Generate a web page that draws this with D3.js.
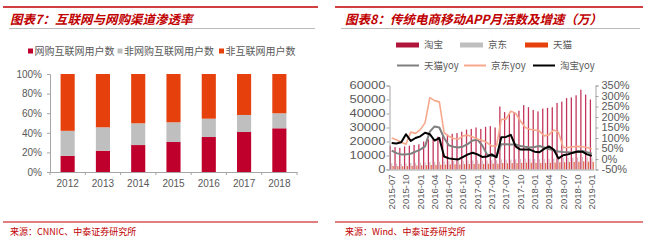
<!DOCTYPE html>
<html>
<head>
<meta charset="utf-8">
<script src="https://cdn.jsdelivr.net/npm/d3@7"></script>
<style>
  body { margin: 0; background: #fff; }
  svg { display: block; }
  text { font-family: "Liberation Sans", Arial, sans-serif; }
  .cjk { font-family: "Noto Sans CJK SC", sans-serif; }
</style>
</head>
<body>
<svg id="chart" width="650" height="240"></svg>
<script>
// ---- left chart data (share of population, %) ----
const years = ['2012', '2013', '2014', '2015', '2016', '2017', '2018'];
const shopUsers = [16.5, 21.7, 27.5, 30.6, 35.7, 40.8, 44.6];      // 网购互联网用户数
const nonShopUsers = [25.5, 23.9, 22.2, 20.1, 18.7, 17.4, 15.3];   // 非网购互联网用户数
const nonNetUsers = [58.0, 54.4, 50.3, 49.3, 45.6, 41.8, 40.1];    // 非互联网用户数
const pctTicks = [0, 20, 40, 60, 80, 100];

// ---- right chart data (万, %) ----
const months = ['2015-07','2015-08','2015-09','2015-10','2015-11','2015-12',
  '2016-01','2016-02','2016-03','2016-04','2016-05','2016-06','2016-07','2016-08','2016-09','2016-10','2016-11','2016-12',
  '2017-01','2017-02','2017-03','2017-04','2017-05','2017-06','2017-07','2017-08','2017-09','2017-10','2017-11','2017-12',
  '2018-01','2018-02','2018-03','2018-04','2018-05','2018-06','2018-07','2018-08','2018-09','2018-10','2018-11','2018-12',
  '2019-01'];
const monthTicks = ['2015-07','2015-10','2016-01','2016-04','2016-07','2016-10','2017-01','2017-04','2017-07','2017-10','2018-01','2018-04','2018-07','2018-10','2019-01'];
const taobaoMau = [17000,16000,15500,16500,17000,17500,18000,20000,21500,22500,23500,24000,25000,25500,26000,27000,
  28500,29000,30000,29000,30500,31000,30000,45000,41000,40500,41000,42000,46000,44500,42500,41500,43500,44000,44500,
  47500,48500,51000,51500,53000,57000,53500,50000];
const jdMau = [4500,4300,4200,4400,4600,4800,5000,5200,5400,5500,5600,5800,6000,6100,6000,6200,6400,6500,6600,6400,
  6500,6700,6600,7200,7000,7100,7300,7500,7800,7600,7400,7300,7500,7600,7700,8000,8100,8300,8400,8600,9000,8700,8500];
const tmallMau = [2500,2400,2300,2500,2600,2800,3000,3100,3200,3300,3400,3500,3600,3700,3600,3800,3900,4000,4100,4000,
  4100,4200,4100,4600,4500,4500,4600,4700,4900,4800,4700,4600,4700,4800,4900,5100,5200,5300,5400,5500,5800,5600,5400];
const tmallYoy = [40,28,22,22,25,35,45,60,130,155,150,100,65,58,55,60,72,88,92,65,22,14,15,70,70,69,69,62,58,55,57,62,
  55,48,42,36,33,32,30,35,38,32,25];
const jdYoy = [100,92,80,70,128,122,140,172,292,278,272,125,108,98,95,110,113,105,95,88,78,62,62,188,190,228,218,182,
  150,142,138,133,110,115,138,128,55,55,58,60,58,55,48];
const taobaoYoy = [76,74,80,118,86,100,108,125,118,88,100,12,3,0,-2,10,22,30,22,10,12,22,8,103,105,115,60,45,45,45,
  35,32,48,60,45,3,18,22,30,36,35,22,15];
const mauTicks = [0, 10000, 20000, 30000, 40000, 50000, 60000];
const yoyTicks = [-50, 0, 50, 100, 150, 200, 250, 300, 350];

const red = '#c00000';
const crimson = '#c0002c';
const lightGray = '#bfbfbf';
const orange = '#e6400c';
const axisGray = '#a6a6a6';
const labelGray = '#595959';

const svg = d3.select('#chart');

// page frame: red rules, title, grey rule, source
function frame(x0, x1, titleX, title, source) {
  svg.append('line').attr('x1', x0).attr('x2', x1).attr('y1', 7).attr('y2', 7)
    .attr('stroke', red).attr('stroke-width', 1.5);
  svg.append('text').attr('class', 'cjk').attr('x', titleX).attr('y', 23.5)
    .attr('font-size', 12.5).attr('font-weight', 'bold').attr('font-style', 'italic')
    .attr('fill', red).text(title);
  svg.append('line').attr('x1', x0 + 6).attr('x2', x1 - 3).attr('y1', 28.5).attr('y2', 28.5)
    .attr('stroke', '#bbbbbb').attr('stroke-width', 1);
  svg.append('line').attr('x1', x0).attr('x2', x1).attr('y1', 222).attr('y2', 222)
    .attr('stroke', red).attr('stroke-width', 1.2);
  svg.append('text').attr('class', 'cjk').attr('x', titleX).attr('y', 235)
    .attr('font-size', 9).attr('fill', red).text(source);
}
frame(3, 318, 10, '图表7：互联网与网购渠道渗透率', '来源：CNNIC、中泰证券研究所');
frame(335, 643, 345, '图表8：传统电商移动APP月活数及增速（万）', '来源：Wind、中泰证券研究所');

// ================= left: stacked 100% bars =================
const xL = d3.scaleBand().domain(years).range([50, 297]).paddingInner(0.6).paddingOuter(0.3);
const yL = d3.scaleLinear().domain([0, 100]).range([172, 74]);

const stackRows = years.map((y, i) => ({ year: y, shop: shopUsers[i], nonShop: nonShopUsers[i], nonNet: nonNetUsers[i] }));
const keysL = ['shop', 'nonShop', 'nonNet'];
const colorL = d3.scaleOrdinal().domain(keysL).range([crimson, lightGray, orange]);
const stacked = d3.stack().keys(keysL)(stackRows);

const left = svg.append('g');
left.selectAll('g.layer')
  .data(stacked)
  .join('g')
  .attr('fill', d => colorL(d.key))
  .selectAll('rect')
  .data(d => d)
  .join('rect')
  .attr('x', d => xL(d.data.year))
  .attr('width', xL.bandwidth())
  .attr('y', d => yL(d[1]))
  .attr('height', d => yL(d[0]) - yL(d[1]));

const yAxisL = left.append('g').attr('transform', 'translate(50,0)')
  .call(d3.axisLeft(yL).tickValues(pctTicks).tickSize(3).tickPadding(5).tickFormat(d => d + '%'));
const xAxisL = left.append('g').attr('transform', 'translate(0,172)')
  .call(d3.axisBottom(xL).tickSize(0).tickPadding(8));
// tick marks between categories
left.append('g').selectAll('line')
  .data(d3.range(years.length + 1))
  .join('line')
  .attr('x1', i => xL.range()[0] + i * xL.step())
  .attr('x2', i => xL.range()[0] + i * xL.step())
  .attr('y1', 172).attr('y2', 175)
  .attr('stroke', axisGray);

[yAxisL, xAxisL].forEach(a => {
  a.selectAll('path, line').attr('stroke', axisGray);
  a.selectAll('text').attr('fill', labelGray).attr('font-size', 10)
    .attr('font-family', '"Liberation Sans", Arial, sans-serif');
});

// left legend
const legendL = [
  { key: 'shop', label: '网购互联网用户数', x: 28 },
  { key: 'nonShop', label: '非网购互联网用户数', x: 117.5 },
  { key: 'nonNet', label: '非互联网用户数', x: 219 }
];
const lgL = svg.append('g').selectAll('g').data(legendL).join('g')
  .attr('transform', d => `translate(${d.x},51)`);
lgL.append('rect').attr('x', 0).attr('y', -2.5).attr('width', 5).attr('height', 5)
  .attr('fill', d => colorL(d.key));
lgL.append('text').attr('class', 'cjk').attr('x', 6.5).attr('y', 3.5)
  .attr('font-size', 10).attr('fill', labelGray).text(d => d.label);

// ================= right: MAU bars + yoy lines =================
const xR = d3.scaleBand().domain(months).range([389.5, 594]).paddingInner(0.08).paddingOuter(0);
const yMau = d3.scaleLinear().domain([0, 60000]).range([169.5, 85.5]);
const yYoy = d3.scaleLinear().domain([-50, 350]).range([169.5, 85.5]);
const barKeys = ['taobao', 'jd', 'tmall'];
const xSub = d3.scaleBand().domain(barKeys).range([0, xR.bandwidth()]).padding(0.1);
const barColor = d3.scaleOrdinal().domain(barKeys).range(['#c4345a', '#d9b8c0', '#e8704c']);
const barSeries = { taobao: taobaoMau, jd: jdMau, tmall: tmallMau };

const right = svg.append('g');
right.selectAll('g.bars')
  .data(barKeys)
  .join('g')
  .attr('fill', k => barColor(k))
  .selectAll('rect')
  .data(k => months.map((m, i) => ({ key: k, month: m, value: barSeries[k][i] })))
  .join('rect')
  .attr('x', d => xR(d.month) + xSub(d.key))
  .attr('width', xSub.bandwidth())
  .attr('y', d => yMau(d.value))
  .attr('height', d => yMau(0) - yMau(d.value));

const lineSeries = [
  { name: '天猫yoy', values: tmallYoy, color: '#7f7f7f', width: 2 },
  { name: '京东yoy', values: jdYoy, color: '#f7a88c', width: 1.6 },
  { name: '淘宝yoy', values: taobaoYoy, color: '#000000', width: 2 }
];
const line = d3.line()
  .x((d, i) => xR(months[i]) + xR.bandwidth() / 2)
  .y(d => yYoy(d));
right.selectAll('path.yoy')
  .data(lineSeries)
  .join('path')
  .attr('class', 'yoy')
  .attr('fill', 'none')
  .attr('stroke', d => d.color)
  .attr('stroke-width', d => d.width)
  .attr('stroke-linejoin', 'round')
  .attr('d', d => line(d.values));

const yAxisR1 = right.append('g').attr('transform', 'translate(389.5,0)')
  .call(d3.axisLeft(yMau).tickValues(mauTicks).tickSize(3).tickPadding(1).tickFormat(d3.format('d')));
const yAxisR2 = right.append('g').attr('transform', 'translate(595.5,0)')
  .call(d3.axisRight(yYoy).tickValues(yoyTicks).tickSize(3).tickPadding(3).tickFormat(d => d + '%'));
const xAxisR = right.append('g').attr('transform', 'translate(0,169.5)')
  .call(d3.axisBottom(xR).tickValues(monthTicks).tickSize(0).tickPadding(4));

[yAxisR1, yAxisR2, xAxisR].forEach(a => {
  a.selectAll('path, line').attr('stroke', axisGray);
  a.selectAll('text').attr('fill', labelGray).attr('font-size', 10)
    .attr('font-family', '"Liberation Sans", Arial, sans-serif');
});
// the reference's axis labels look stretched sideways
yAxisR1.selectAll('text').attr('x', -4 / 1.3).attr('transform', 'scale(1.3,1)');
yAxisR2.selectAll('text').attr('x', 6 / 1.1).attr('transform', 'scale(1.1,1)');
xAxisR.selectAll('text')
  .attr('text-anchor', 'end')
  .attr('transform', 'rotate(-90)')
  .attr('x', -5).attr('y', 0).attr('dy', '0.35em')
  .attr('font-size', 9.5);

// right legend
const legendBars = [
  { key: 'taobao', label: '淘宝', x: 396, color: '#b0153c' },
  { key: 'jd', label: '京东', x: 460, color: lightGray },
  { key: 'tmall', label: '天猫', x: 525, color: orange }
];
const lgB = svg.append('g').selectAll('g').data(legendBars).join('g')
  .attr('transform', d => `translate(${d.x},45)`);
lgB.append('rect').attr('x', 0).attr('y', -2.5).attr('width', 23).attr('height', 5).attr('fill', d => d.color);
lgB.append('text').attr('class', 'cjk').attr('x', 28).attr('y', 3.3)
  .attr('font-size', 9.5).attr('fill', labelGray).text(d => d.label);

const legendLines = [
  { s: lineSeries[0], x: 397 },
  { s: lineSeries[1], x: 464 },
  { s: lineSeries[2], x: 533 }
];
const lgLn = svg.append('g').selectAll('g').data(legendLines).join('g')
  .attr('transform', d => `translate(${d.x},65.5)`);
lgLn.append('line').attr('x1', 0).attr('x2', 22).attr('y1', 0).attr('y2', 0)
  .attr('stroke', d => d.s.color).attr('stroke-width', 2);
lgLn.append('text').attr('class', 'cjk').attr('x', 27).attr('y', 3.3)
  .attr('font-size', 9.5).attr('fill', labelGray).text(d => d.label || d.s.name);
</script>
</body>
</html>
